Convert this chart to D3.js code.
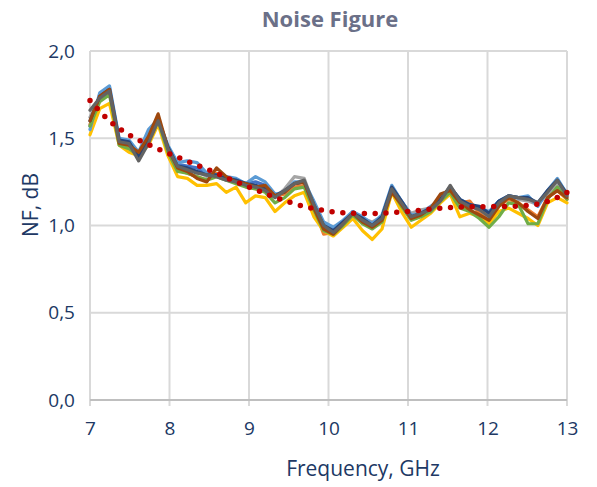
<!DOCTYPE html>
<html>
<head>
<meta charset="utf-8">
<script src="https://cdn.jsdelivr.net/npm/d3@7"></script>
<style>
    body { margin: 0; background: #fff; }
    text { font-family: "Open Sans", sans-serif; }
</style>
</head>
<body>
<div id="chart-area"></div>
<script>
// Data
var freqGHz = [7.000, 7.122, 7.245, 7.367, 7.490, 7.612, 7.735, 7.857, 7.980, 8.102,
    8.224, 8.347, 8.469, 8.592, 8.714, 8.837, 8.959, 9.082, 9.204, 9.327,
    9.449, 9.571, 9.694, 9.816, 9.939, 10.061, 10.184, 10.306, 10.429, 10.551,
    10.673, 10.796, 10.918, 11.041, 11.163, 11.286, 11.408, 11.531, 11.653, 11.776,
    11.898, 12.020, 12.143, 12.265, 12.388, 12.510, 12.633, 12.755, 12.878, 13.000];

var nf1 = [1.57, 1.75, 1.79, 1.49, 1.48, 1.40, 1.52, 1.60, 1.45, 1.35, 1.34, 1.33, 1.29, 1.28, 1.27, 1.26, 1.24, 1.25, 1.23, 1.17,
    1.19, 1.24, 1.25, 1.13, 1.01, 0.98, 1.02, 1.08, 1.04, 1.01, 1.05, 1.22, 1.14, 1.06, 1.07, 1.10, 1.15, 1.22, 1.14, 1.11,
    1.10, 1.07, 1.14, 1.17, 1.16, 1.16, 1.12, 1.19, 1.26, 1.18];
var nf2 = [1.58, 1.72, 1.76, 1.47, 1.45, 1.41, 1.49, 1.62, 1.43, 1.32, 1.30, 1.28, 1.26, 1.30, 1.27, 1.25, 1.23, 1.21, 1.21, 1.17,
    1.18, 1.22, 1.23, 1.10, 0.95, 0.96, 1.01, 1.06, 1.02, 0.99, 1.03, 1.20, 1.12, 1.04, 1.06, 1.09, 1.16, 1.20, 1.13, 1.14,
    1.07, 1.03, 1.11, 1.15, 1.13, 1.09, 1.05, 1.16, 1.20, 1.15];
var nf3 = [1.62, 1.73, 1.77, 1.48, 1.47, 1.39, 1.50, 1.61, 1.45, 1.34, 1.32, 1.31, 1.28, 1.29, 1.27, 1.25, 1.23, 1.22, 1.21, 1.16,
    1.21, 1.28, 1.27, 1.12, 1.00, 0.97, 1.02, 1.07, 1.04, 1.02, 1.05, 1.21, 1.13, 1.07, 1.09, 1.10, 1.15, 1.21, 1.14, 1.12,
    1.10, 1.06, 1.12, 1.16, 1.15, 1.14, 1.12, 1.18, 1.24, 1.17];
var nf4 = [1.52, 1.67, 1.70, 1.46, 1.42, 1.40, 1.46, 1.58, 1.40, 1.28, 1.27, 1.23, 1.23, 1.24, 1.19, 1.22, 1.13, 1.17, 1.16, 1.08,
    1.13, 1.17, 1.19, 1.05, 0.97, 0.94, 0.99, 1.04, 0.97, 0.92, 0.98, 1.19, 1.08, 0.99, 1.03, 1.07, 1.13, 1.18, 1.05, 1.07,
    1.05, 1.01, 1.08, 1.10, 1.07, 1.04, 1.00, 1.13, 1.16, 1.13];
var nf5 = [1.55, 1.76, 1.80, 1.50, 1.49, 1.42, 1.55, 1.61, 1.46, 1.36, 1.37, 1.36, 1.30, 1.29, 1.28, 1.27, 1.24, 1.28, 1.25, 1.18,
    1.19, 1.25, 1.25, 1.14, 1.02, 0.99, 1.03, 1.08, 1.05, 1.01, 1.06, 1.23, 1.14, 1.06, 1.07, 1.11, 1.15, 1.22, 1.15, 1.12,
    1.10, 1.08, 1.14, 1.17, 1.16, 1.17, 1.11, 1.20, 1.27, 1.18];
var nf6 = [1.57, 1.71, 1.75, 1.46, 1.44, 1.40, 1.48, 1.60, 1.42, 1.31, 1.30, 1.28, 1.26, 1.28, 1.26, 1.24, 1.22, 1.21, 1.19, 1.13,
    1.16, 1.21, 1.22, 1.09, 0.97, 0.95, 1.00, 1.06, 1.01, 0.98, 1.02, 1.20, 1.11, 1.03, 1.05, 1.08, 1.14, 1.19, 1.10, 1.08,
    1.04, 0.99, 1.05, 1.13, 1.12, 1.01, 1.01, 1.15, 1.22, 1.15];
var nf7 = [1.60, 1.74, 1.78, 1.49, 1.48, 1.39, 1.50, 1.61, 1.45, 1.34, 1.33, 1.31, 1.29, 1.29, 1.27, 1.26, 1.24, 1.23, 1.21, 1.17,
    1.20, 1.24, 1.25, 1.12, 1.00, 0.97, 1.02, 1.07, 1.04, 1.00, 1.05, 1.22, 1.14, 1.05, 1.07, 1.10, 1.15, 1.22, 1.15, 1.12,
    1.11, 1.07, 1.14, 1.17, 1.16, 1.16, 1.13, 1.20, 1.26, 1.18];
var nf8 = [1.60, 1.74, 1.78, 1.47, 1.46, 1.42, 1.51, 1.64, 1.44, 1.33, 1.31, 1.27, 1.25, 1.33, 1.28, 1.25, 1.24, 1.22, 1.23, 1.17,
    1.19, 1.24, 1.25, 1.10, 0.98, 0.95, 1.01, 1.07, 1.02, 0.99, 1.03, 1.19, 1.12, 1.04, 1.06, 1.10, 1.18, 1.20, 1.13, 1.09,
    1.06, 1.03, 1.11, 1.16, 1.13, 1.08, 1.04, 1.16, 1.20, 1.16];
var nf9 = [1.66, 1.73, 1.77, 1.48, 1.47, 1.37, 1.47, 1.60, 1.44, 1.34, 1.32, 1.30, 1.29, 1.28, 1.26, 1.25, 1.23, 1.22, 1.20, 1.16,
    1.20, 1.24, 1.26, 1.12, 1.00, 0.96, 1.01, 1.07, 1.03, 1.00, 1.04, 1.21, 1.13, 1.05, 1.07, 1.09, 1.14, 1.23, 1.14, 1.11,
    1.09, 1.05, 1.13, 1.17, 1.16, 1.15, 1.13, 1.19, 1.26, 1.17];

// Trend line (dotted)
var trendFreq = [7.0, 7.25, 7.5, 7.75, 8.0, 8.25, 8.5, 8.75, 9.0, 9.25, 9.5, 9.75, 10.0,
    10.25, 10.5, 10.75, 11.0, 11.25, 11.5, 11.75, 12.0, 12.25, 12.5, 12.75, 13.0];
var trendNF = [1.716, 1.598, 1.517, 1.460, 1.411, 1.364, 1.318, 1.268, 1.220, 1.175, 1.135, 1.103, 1.082,
    1.071, 1.068, 1.073, 1.080, 1.093, 1.102, 1.107, 1.108, 1.109, 1.115, 1.137, 1.190];

var seriesColors = ["#4472C4", "#ED7D31", "#A5A5A5", "#FFC000", "#5B9BD5",
    "#70AD47", "#264478", "#9E480E", "#636363"];
var allSeries = [nf1, nf2, nf3, nf4, nf5, nf6, nf7, nf8, nf9];

var xTicks = [7, 8, 9, 10, 11, 12, 13];
var yTicks = [0, 0.5, 1.0, 1.5, 2.0];

var margin = { left: 90, right: 30, top: 51, bottom: 87 };
var width = 597 - margin.left - margin.right,
    height = 487 - margin.top - margin.bottom;

var svg = d3.select("#chart-area")
    .append("svg")
        .attr("width", 597)
        .attr("height", 487);

var g = svg.append("g")
    .attr("transform", "translate(" + margin.left + "," + margin.top + ")");

// Scales
var x = d3.scaleLinear()
    .domain([7, 13])
    .range([0, width]);
var y = d3.scaleLinear()
    .domain([0, 2])
    .range([height, 0]);

var axisColor = "#203864";
var gridColor = "#D9D9D9";

// Gridlines
g.selectAll(".hgrid")
    .data(yTicks)
    .enter().append("line")
        .attr("class", "hgrid")
        .attr("x1", 0)
        .attr("x2", width)
        .attr("y1", function(d){ return y(d); })
        .attr("y2", function(d){ return y(d); })
        .attr("stroke", gridColor)
        .attr("stroke-width", 2);

g.selectAll(".vgrid")
    .data(xTicks)
    .enter().append("line")
        .attr("class", "vgrid")
        .attr("x1", function(d){ return x(d); })
        .attr("x2", function(d){ return x(d); })
        .attr("y1", 0)
        .attr("y2", height + 6)
        .attr("stroke", gridColor)
        .attr("stroke-width", 2);

// bottom axis line
g.append("line")
    .attr("x1", 0)
    .attr("x2", width)
    .attr("y1", height)
    .attr("y2", height)
    .attr("stroke", "#BFBFBF")
    .attr("stroke-width", 2);

// Axes (labels only)
var xAxisCall = d3.axisBottom(x)
    .tickValues(xTicks)
    .tickSize(0)
    .tickPadding(22)
    .tickFormat(d3.format("d"));
var xAxis = g.append("g")
    .attr("transform", "translate(0," + height + ")")
    .call(xAxisCall);

var yAxisCall = d3.axisLeft(y)
    .tickValues(yTicks)
    .tickSize(0)
    .tickPadding(15)
    .tickFormat(function(d){ return d3.format(".1f")(d).replace(".", ","); });
var yAxis = g.append("g")
    .call(yAxisCall);

[xAxis, yAxis].forEach(function(ax){
    ax.select(".domain").remove();
    ax.selectAll("text")
        .attr("fill", axisColor)
        .attr("font-size", "19px")
        .attr("font-family", "Open Sans, sans-serif");
});

// Lines
var line = d3.line()
    .x(function(d, i){ return x(freqGHz[i]); })
    .y(function(d){ return y(d); });

allSeries.forEach(function(s, i){
    g.append("path")
        .datum(s)
        .attr("d", line)
        .attr("fill", "none")
        .attr("stroke", seriesColors[i])
        .attr("stroke-width", 3.2)
        .attr("stroke-linejoin", "round")
        .attr("stroke-linecap", "round");
});

// Trend line
var trendLine = d3.line()
    .curve(d3.curveMonotoneX)
    .x(function(d, i){ return x(trendFreq[i]); })
    .y(function(d){ return y(d); });

g.append("path")
    .datum(trendNF)
    .attr("d", trendLine)
    .attr("fill", "none")
    .attr("stroke", "#C00000")
    .attr("stroke-width", 5.5)
    .attr("stroke-linecap", "round")
    .attr("stroke-dasharray", "0 10.8");

// Labels
svg.append("text")
    .attr("x", 330)
    .attr("y", 27)
    .attr("text-anchor", "middle")
    .attr("font-size", "22px")
    .attr("font-weight", "bold")
    .attr("fill", "#6B7088")
    .text("Noise Figure");

svg.append("text")
    .attr("x", 363)
    .attr("y", 476)
    .attr("text-anchor", "middle")
    .attr("font-size", "21px")
    .attr("fill", axisColor)
    .text("Frequency, GHz");

svg.append("text")
    .attr("transform", "rotate(-90)")
    .attr("x", -205)
    .attr("y", 38)
    .attr("text-anchor", "middle")
    .attr("font-size", "21px")
    .attr("fill", axisColor)
    .text("NF, dB");
</script>
</body>
</html>
